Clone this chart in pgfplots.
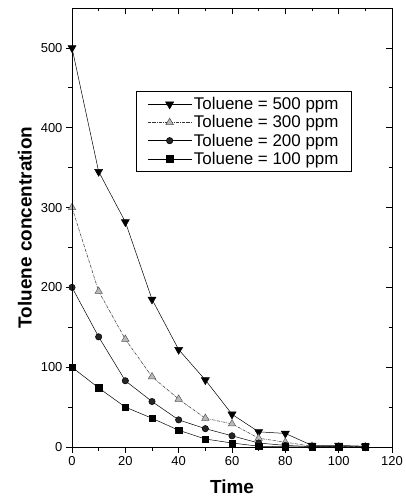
\documentclass[border=0pt]{standalone}
\usepackage{fontspec}
\setmainfont{Liberation Sans}
\usepackage{pgfplots}
\pgfplotsset{compat=1.18}
\begin{document}
\begin{tikzpicture}[x=1bp,y=1bp]
\useasboundingbox (-72,-52) rectangle (333,447);
\pgfplotsset{
  common/.style={
    at={(0,0)}, anchor=south west, scale only axis,
    width=320bp, height=439bp,
    xmin=0, xmax=120, ymin=0, ymax=550,
    xtick={0,20,...,120}, ytick={0,100,...,500},
    minor xtick={10,30,...,110}, minor ytick={50,150,...,450},
    major tick length=6bp, minor tick length=3.5bp,
    every tick/.style={black, line width=0.8pt},
    axis line style={line width=0.9pt},
  }
}
\begin{axis}[common,
    tick align=outside,
    xtick pos=bottom, ytick pos=left,
    /pgf/number format/assume math mode=true,
    ticklabel style={font=\fontsize{13}{13}\selectfont},
    xlabel={\textbf{Time}}, ylabel={\textbf{Toluene concentration}},
    label style={font=\fontsize{19}{19}\selectfont},
    xlabel style={yshift=-7bp},
    ylabel style={yshift=2bp},
    legend style={at={(0.2,0.811)}, anchor=north west, draw=black, line width=0.7pt,
      font=\fontsize{17}{20}\selectfont, inner xsep=11bp, inner ysep=4bp,
      row sep=0.5bp, cells={anchor=west}},
    legend image post style={line width=0.6pt},
    legend image code/.code={
      \draw[mark=none] (0bp,0bp) -- (44bp,0bp);
      \draw plot coordinates {(22bp,0bp)};},
    line width=0.5pt,
  ]
\addplot[black, mark=triangle*, mark options={rotate=180, scale=1.3, solid}, mark size=3.6pt]
  coordinates {(0,500)(10,345)(20,282)(30,185)(40,122)(50,84)(60,41)(70,19)(80,17)(90,2)(100,2)(110,1)};
\addlegendentry{Toluene = 500 ppm}
\addplot[black!80, densely dashdotted, mark=triangle*, mark size=4.3pt,
    mark options={solid, fill=gray!55, draw=gray!70!black}]
  coordinates {(0,300)(10,195)(20,135)(30,88)(40,60)(50,36)(60,29)(70,11)(80,6)(90,1)(100,0.5)(110,0.5)};
\addlegendentry{Toluene = 300 ppm}
\addplot[black, mark=*, mark size=3.2pt, mark options={solid, fill=black!85}]
  coordinates {(0,200)(10,138)(20,83)(30,57)(40,34)(50,23)(60,14)(70,5)(80,2)(90,0.5)(100,0.3)(110,0.3)};
\addlegendentry{Toluene = 200 ppm}
\addplot[black, mark=square*, mark size=3.2pt, mark options={solid}]
  coordinates {(0,100)(10,74)(20,50)(30,36)(40,21)(50,10)(60,5)(70,1)(80,0.3)(90,0.2)(100,0.2)(110,0.2)};
\addlegendentry{Toluene = 100 ppm}
\end{axis}
\begin{axis}[common,
    tick align=inside,
    xtick pos=top, ytick pos=right,
    xticklabels={}, yticklabels={},
  ]
\end{axis}
\end{tikzpicture}
\end{document}
